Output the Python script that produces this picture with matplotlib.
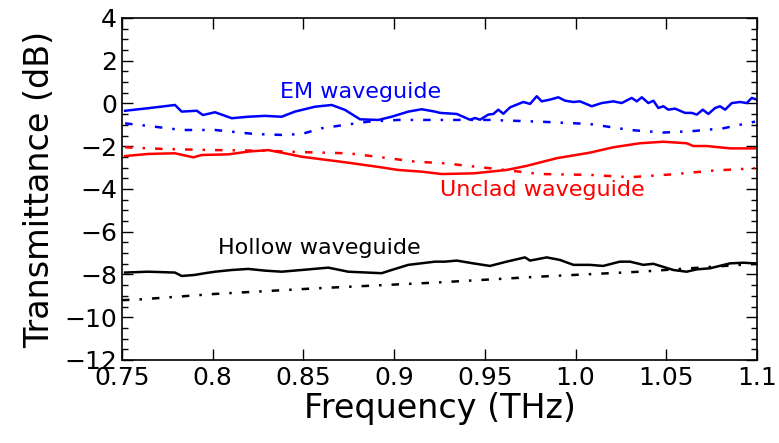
import matplotlib
matplotlib.use("Agg")
import matplotlib.pyplot as plt
from matplotlib.ticker import MultipleLocator

# EM waveguide (measured, solid)
em_f = [0.7517, 0.7645, 0.7792, 0.7829, 0.7912, 0.7946, 0.8013, 0.8105, 0.8194, 0.8288,
        0.8380, 0.8453, 0.8564, 0.8656, 0.8729, 0.8812, 0.8913, 0.8986, 0.9078, 0.9152,
        0.9225, 0.9253, 0.9345, 0.9418, 0.9446, 0.9473, 0.9519, 0.9547, 0.9574, 0.9602,
        0.9639, 0.9712, 0.9749, 0.9786, 0.9813, 0.9859, 0.9905, 0.9942, 0.9988, 1.0024,
        1.0089, 1.0144, 1.0208, 1.0254, 1.0309, 1.0337, 1.0365, 1.0401, 1.0429, 1.0456,
        1.0484, 1.0511, 1.0548, 1.0603, 1.0640, 1.0668, 1.0701, 1.0732, 1.0769, 1.0796,
        1.0824, 1.0861, 1.0907, 1.0943, 1.0971, 1.0998]
em_db = [-0.34, -0.22, -0.07, -0.38, -0.34, -0.54, -0.41, -0.69, -0.62, -0.58,
         -0.62, -0.38, -0.15, -0.07, -0.30, -0.74, -0.77, -0.62, -0.38, -0.27,
         -0.38, -0.44, -0.49, -0.76, -0.68, -0.76, -0.52, -0.49, -0.29, -0.48,
         -0.18, 0.07, -0.02, 0.34, 0.10, 0.18, 0.29, 0.13, 0.07, 0.10,
         -0.13, 0.02, 0.10, 0.02, 0.26, 0.10, 0.29, 0.02, 0.13, -0.21,
         -0.13, -0.29, -0.24, -0.44, -0.44, -0.52, -0.29, -0.49, -0.21, -0.13,
         -0.29, 0.02, 0.07, 0.02, 0.26, 0.18]

# EM waveguide (simulated, dash-dot)
em_sim_f = [0.7517, 0.7645, 0.7829, 0.8013, 0.8233, 0.8380, 0.8490, 0.8600, 0.8729, 0.8857,
            0.9022, 0.9280, 0.9528, 0.9803, 1.0079, 1.0300, 1.0483, 1.0648, 1.0814, 1.0989]
em_sim_db = [-0.93, -1.05, -1.24, -1.24, -1.43, -1.47, -1.43, -1.16, -1.00, -0.85,
             -0.77, -0.77, -0.77, -0.85, -0.96, -1.24, -1.36, -1.29, -1.16, -0.85]

# Unclad waveguide (measured, solid)
un_f = [0.7517, 0.7645, 0.7792, 0.7893, 0.7939, 0.8086, 0.8196, 0.8306, 0.8380, 0.8490,
        0.8600, 0.8747, 0.8931, 0.9022, 0.9152, 0.9262, 0.9436, 0.9620, 0.9730, 0.9896,
        1.0079, 1.0207, 1.0355, 1.0483, 1.0612, 1.0649, 1.0723, 1.0851, 1.0989]
un_db = [-2.46, -2.36, -2.33, -2.52, -2.41, -2.38, -2.25, -2.18, -2.30, -2.49,
         -2.61, -2.77, -2.99, -3.11, -3.19, -3.30, -3.27, -3.11, -2.92, -2.56,
         -2.30, -2.05, -1.86, -1.79, -1.86, -1.99, -1.99, -2.10, -2.10]

# Unclad waveguide (simulated, dash-dot)
un_sim_f = [0.7517, 0.7737, 0.8013, 0.8288, 0.8472, 0.8747, 0.8931, 0.9115, 0.9280, 0.9528,
            0.9803, 1.0079, 1.0300, 1.0539, 1.0759, 1.0989]
un_sim_db = [-2.05, -2.13, -2.18, -2.21, -2.27, -2.33, -2.52, -2.72, -2.80, -3.03,
             -3.30, -3.34, -3.45, -3.31, -3.14, -3.03]

# Hollow waveguide (measured, solid)
ho_f = [0.7517, 0.7645, 0.7792, 0.7829, 0.7902, 0.7957, 0.8013, 0.8105, 0.8196, 0.8288,
        0.8380, 0.8490, 0.8637, 0.8747, 0.8931, 0.8986, 0.9078, 0.9225, 0.9280, 0.9345,
        0.9436, 0.9528, 0.9620, 0.9721, 0.9749, 0.9841, 0.9914, 0.9988, 1.0079, 1.0152,
        1.0244, 1.0300, 1.0373, 1.0428, 1.0539, 1.0612, 1.0668, 1.0741, 1.0851, 1.0925,
        1.0989]
ho_db = [-7.91, -7.87, -7.91, -8.07, -8.02, -7.94, -7.87, -7.79, -7.74, -7.82,
         -7.87, -7.79, -7.68, -7.87, -7.94, -7.79, -7.55, -7.40, -7.40, -7.35,
         -7.48, -7.60, -7.40, -7.20, -7.35, -7.20, -7.32, -7.55, -7.55, -7.60,
         -7.40, -7.40, -7.55, -7.50, -7.79, -7.87, -7.76, -7.71, -7.48, -7.45,
         -7.48]

# Hollow waveguide (simulated, dash-dot)
ho_sim_f = [0.7500, 0.7609, 0.8013, 0.8564, 0.9225, 0.9803, 1.0355, 1.0906, 1.1000]
ho_sim_db = [-9.20, -9.16, -8.91, -8.65, -8.38, -8.10, -7.87, -7.55, -7.50]

dashdot = (0, (3, 4, 1, 4))

fig = plt.figure(figsize=(7.79, 4.43), dpi=100)
ax = fig.add_axes([0.1566, 0.1874, 0.8152, 0.772])

ax.plot(em_f, em_db, color="blue", lw=1.8)
ax.plot(em_sim_f, em_sim_db, color="blue", lw=1.8, linestyle=dashdot)
ax.plot(un_f, un_db, color="red", lw=1.8)
ax.plot(un_sim_f, un_sim_db, color="red", lw=1.8, linestyle=dashdot)
ax.plot(ho_f, ho_db, color="black", lw=1.8)
ax.plot(ho_sim_f, ho_sim_db, color="black", lw=1.8, linestyle=dashdot)

ax.text(0.837, 0.55, "EM waveguide", color="blue", fontsize=16, va="center")
ax.text(0.925, -4.05, "Unclad waveguide", color="red", fontsize=16, va="center")
ax.text(0.803, -6.75, "Hollow waveguide", color="black", fontsize=16, va="center")

ax.set_xlim(0.75, 1.1)
ax.set_ylim(-12, 4)
ax.set_xticks([0.75, 0.8, 0.85, 0.9, 0.95, 1.0, 1.05, 1.1])
ax.set_xticklabels(["0.75", "0.8", "0.85", "0.9", "0.95", "1.0", "1.05", "1.1"])
ax.yaxis.set_major_locator(MultipleLocator(2))
ax.yaxis.set_minor_locator(MultipleLocator(0.5))
ax.tick_params(which="both", direction="in", top=True, right=True, labelsize=18)
ax.tick_params(which="major", length=8, width=1)
ax.tick_params(which="minor", length=4, width=1)
ax.tick_params(axis="x", pad=4)
for s in ax.spines.values():
    s.set_linewidth(1.2)

ax.set_xlabel("Frequency (THz)", fontsize=24, labelpad=2)
ax.set_ylabel("Transmittance (dB)", fontsize=24, labelpad=6)

fig.savefig("out.png", dpi=100)
